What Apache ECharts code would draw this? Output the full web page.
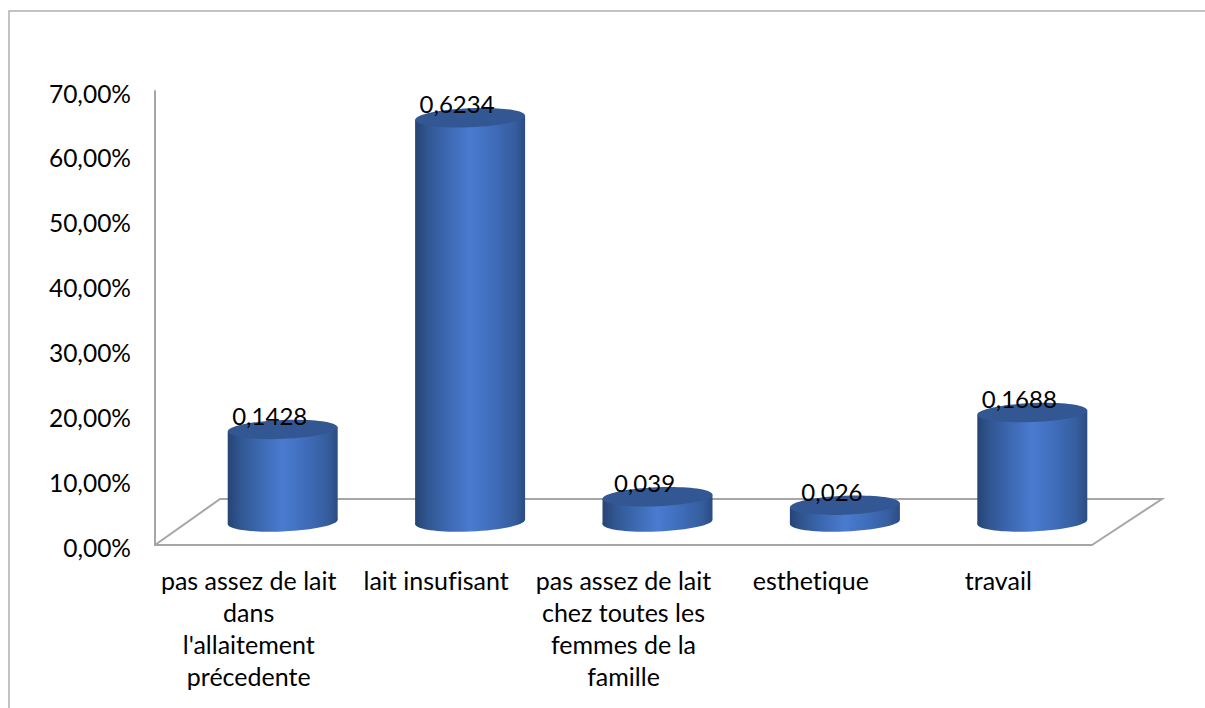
<!DOCTYPE html>
<html>
<head>
<meta charset="utf-8">
<style>
html, body { margin: 0; padding: 0; background: #fff; }
#chart { width: 1205px; height: 708px; }
#chart text { font-variant-ligatures: none; }
</style>
<script src="https://cdn.jsdelivr.net/npm/echarts@6/dist/echarts.min.js"></script>
</head>
<body>
<div id="chart"></div>
<script>
var categories = [
	"pas assez de lait\ndans\nl'allaitement\nprécedente",
	"lait insufisant",
	"pas assez de lait\nchez toutes les\nfemmes de la\nfamille",
	"esthetique",
	"travail"
];
var values = [0.1428, 0.6234, 0.039, 0.026, 0.1688];
var yTicks = { min: 0, max: 0.7, interval: 0.1 };

var fontName = 'Lato';
var grey = '#a6a6a6';
var depthX = 68, depthY = 46; // 3d floor offset
var barW = 110, ry = 9.5, tilt = 0.04;

function bodyFill() {
	return new echarts.graphic.LinearGradient(0, 0, 1, 0, [
		{ offset: 0, color: '#264474' },
		{ offset: 0.12, color: '#315793' },
		{ offset: 0.3, color: '#3d69b2' },
		{ offset: 0.5, color: '#4a7bd0' },
		{ offset: 0.72, color: '#3e6cb8' },
		{ offset: 0.9, color: '#365e9f' },
		{ offset: 1, color: '#2b4c82' }
	]);
}

function renderFloor(params, api) {
	var c = params.coordSys;
	var left = c.x, right = c.x + c.width, bottom = c.y + c.height;
	return {
		type: 'polyline',
		silent: true,
		shape: {
			points: [
				[left, bottom],
				[left + depthX - 3, bottom - depthY],
				[right + depthX + 2, bottom - depthY],
				[right, bottom]
			]
		},
		style: { fill: null, stroke: grey, lineWidth: 2 }
	};
}

function renderCylinder(params, api) {
	var i = api.value(0), v = api.value(1);
	var base = api.coord([i, 0]), top = api.coord([i, v]);
	var cx = base[0] + depthX / 2;
	var by = base[1] - depthY / 2;
	var ty = top[1] - depthY / 2;
	var dy = barW / 2 * Math.tan(tilt);
	return {
		type: 'group',
		children: [
			{
				type: 'ellipse',
				x: cx, y: by, rotation: tilt,
				shape: { cx: 0, cy: 0, rx: barW / 2, ry: ry },
				style: { fill: bodyFill() }
			},
			{
				type: 'polygon',
				shape: {
					points: [
						[cx - barW / 2, ty + dy],
						[cx + barW / 2, ty - dy],
						[cx + barW / 2, by - dy],
						[cx - barW / 2, by + dy]
					]
				},
				style: { fill: bodyFill() }
			},
			{
				type: 'ellipse',
				x: cx, y: ty, rotation: tilt,
				shape: { cx: 0, cy: 0, rx: barW / 2, ry: ry },
				style: { fill: '#335793' }
			},
			{
				type: 'text',
				x: cx - 13, y: ty - 14,
				style: {
					text: String(v).replace('.', ','),
					fill: '#000',
					font: '24px ' + fontName,
					align: 'center',
					verticalAlign: 'middle'
				}
			}
		]
	};
}

var chart = echarts.init(document.getElementById('chart'), null, { renderer: 'svg' });
chart.setOption({
	animation: false,
	backgroundColor: '#fff',
	grid: { left: 155, right: 113, top: 91, bottom: 163 },
	xAxis: {
		type: 'category',
		data: categories,
		axisLine: { lineStyle: { color: grey, width: 2 } },
		axisTick: { show: false },
		axisLabel: {
			interval: 0, margin: 19, color: '#000',
			fontFamily: fontName, fontSize: 25, lineHeight: 32
		}
	},
	yAxis: {
		type: 'value',
		min: yTicks.min, max: yTicks.max, interval: yTicks.interval,
		axisLine: { show: true, lineStyle: { color: grey, width: 2 } },
		axisTick: { show: false },
		splitLine: { show: false },
		axisLabel: {
			margin: 24, color: '#000',
			formatter: function(v) {
				return '{t|' + (v * 100).toFixed(2).replace('.', ',') + '%}';
			},
			rich: {
				t: {
					color: '#000', fontFamily: fontName, fontSize: 24.5,
					padding: [4, 0, 0, 0]
				}
			}
		}
	},
	series: [ {
		type: 'custom',
		renderItem: renderFloor,
		clip: false,
		silent: true,
		z: 1,
		data: [ [0, 0] ]
	}, {
		type: 'custom',
		renderItem: renderCylinder,
		clip: false,
		z: 2,
		encode: { x: 0, y: 1 },
		data: values.map(function(v, i) { return [i, v]; })
	} ],
	graphic: [ {
		type: 'polyline',
		silent: true,
		shape: { points: [ [9, 708], [9, 11], [1205, 11] ] },
		style: { fill: null, stroke: '#b0b0b0', lineWidth: 1.5 }
	} ]
});
</script>
</body>
</html>
